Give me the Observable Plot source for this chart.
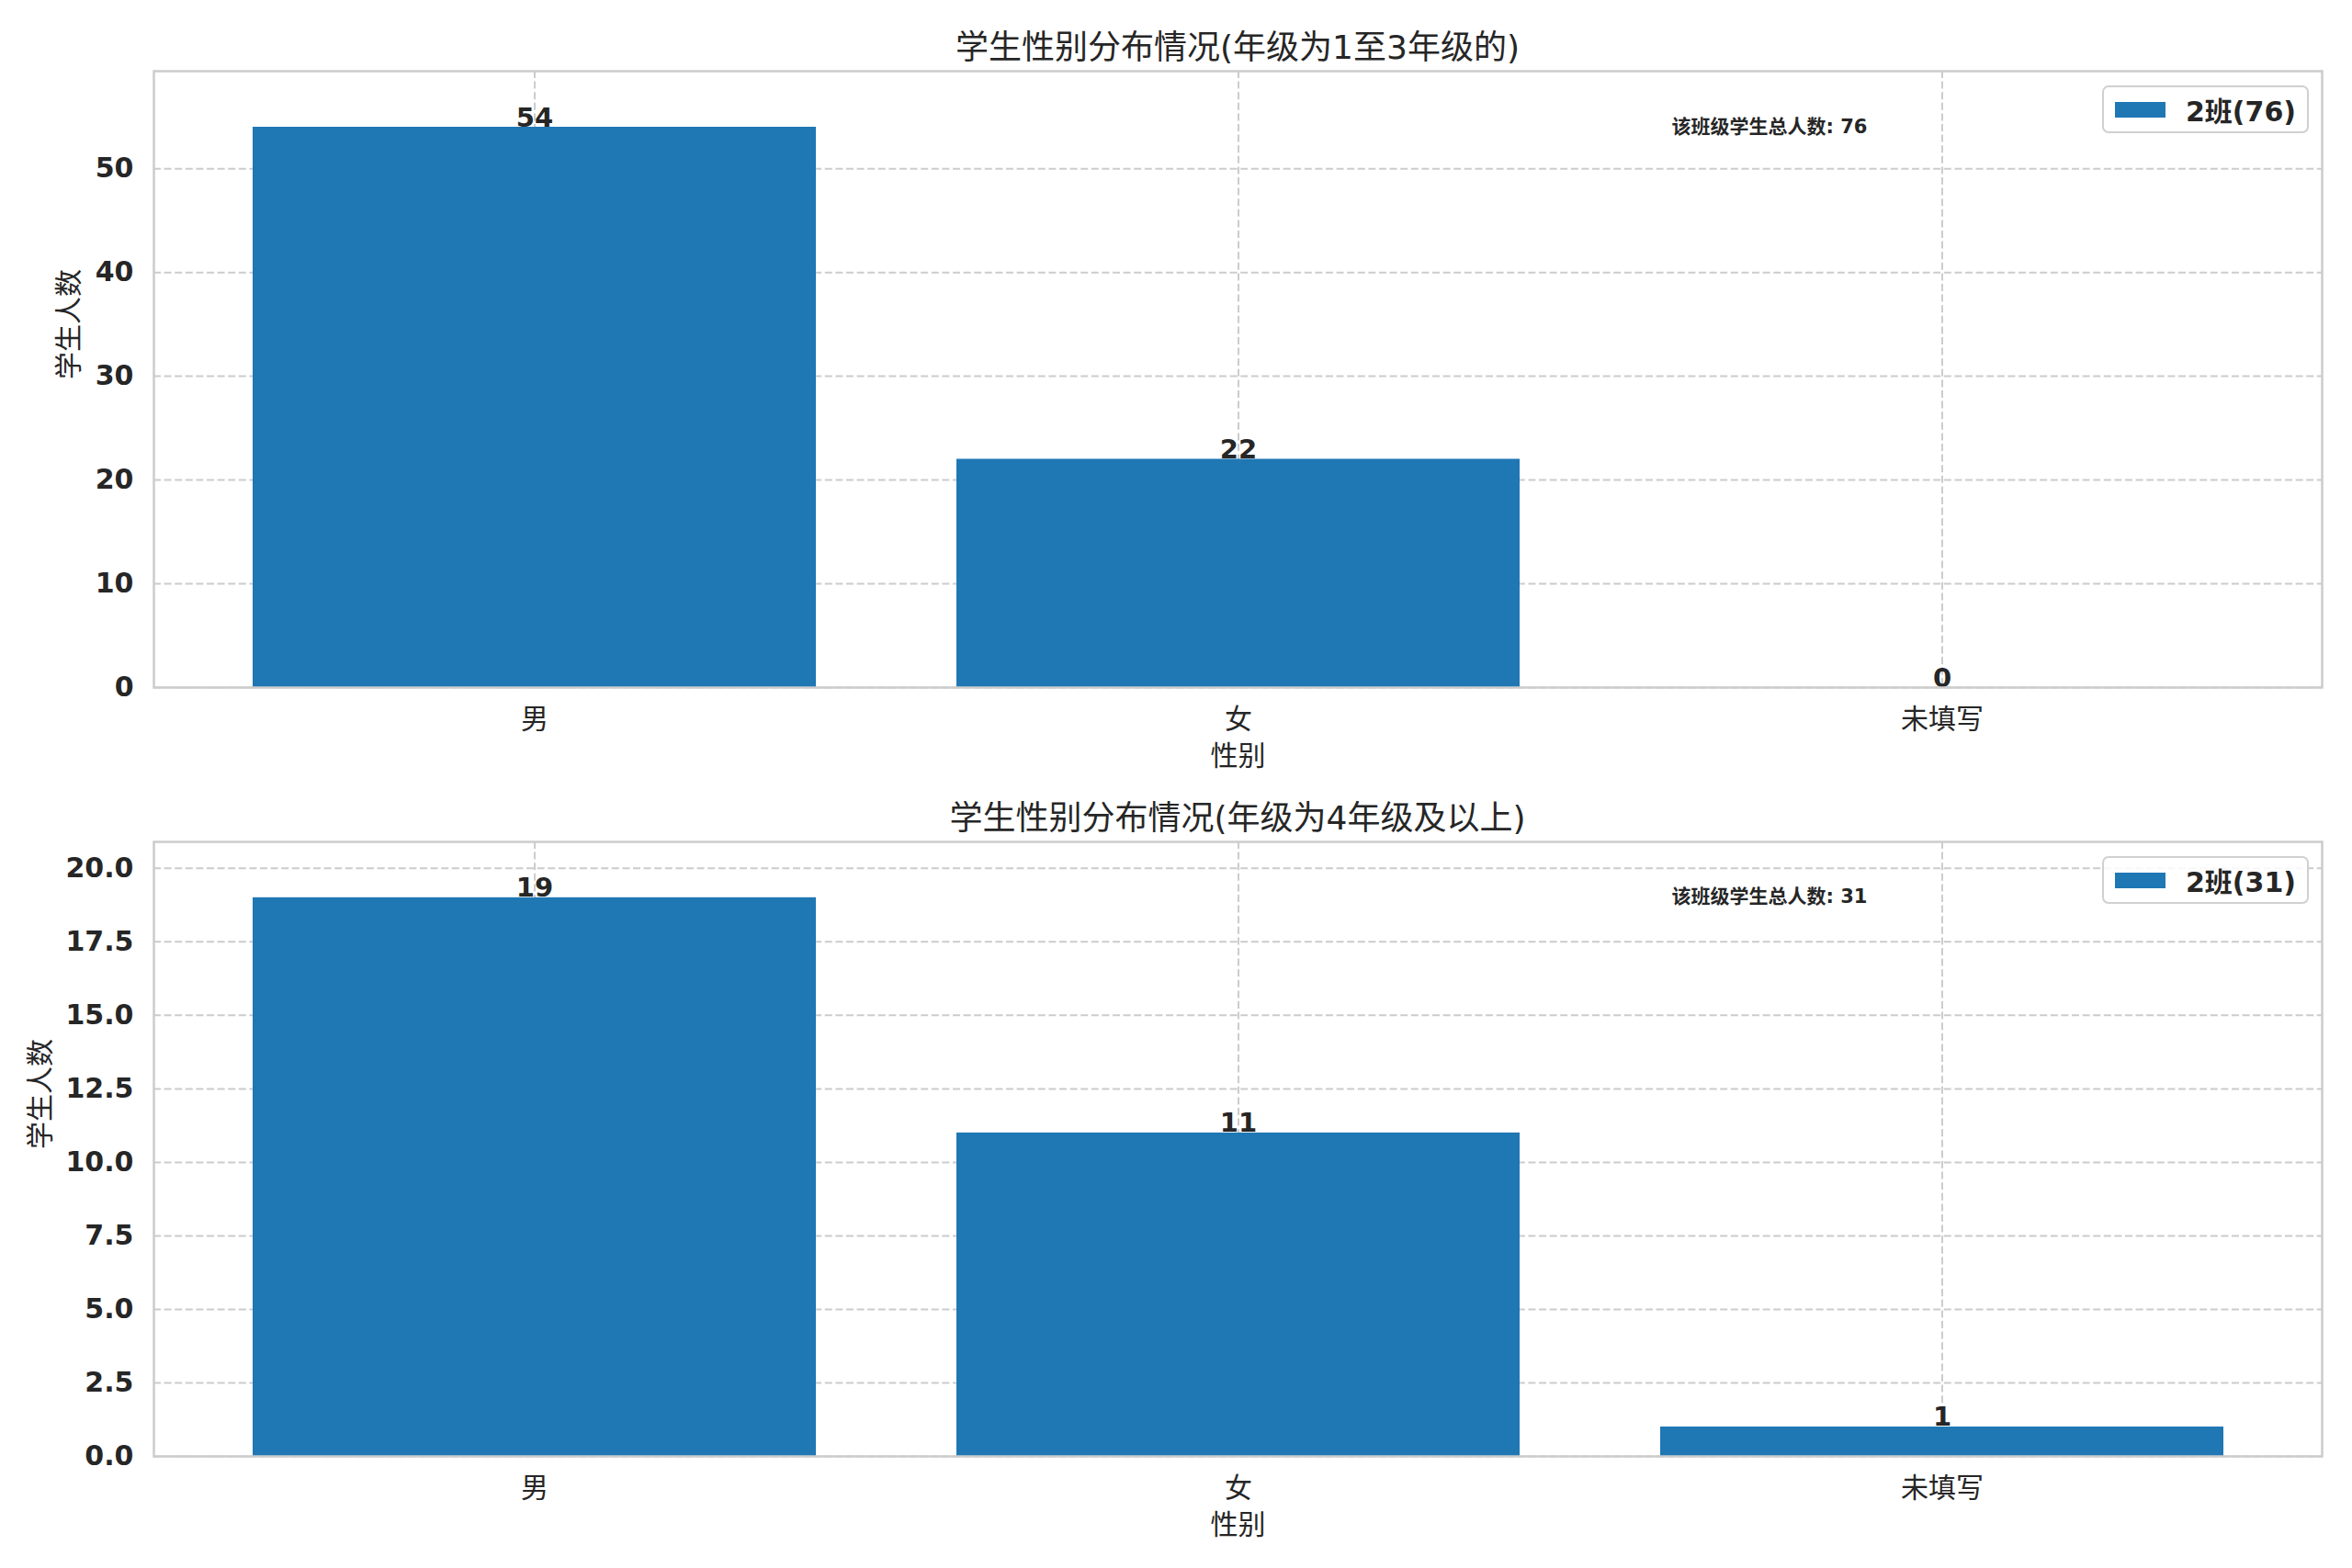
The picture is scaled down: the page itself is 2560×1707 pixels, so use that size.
<!DOCTYPE html>
<html>
<head>
<meta charset="utf-8">
<script src="https://cdn.jsdelivr.net/npm/d3@7"></script>
<script src="https://cdn.jsdelivr.net/npm/@observablehq/plot@0.6"></script>
<style>
  html, body { margin: 0; padding: 0; background: #ffffff; }
  #page { position: relative; width: 2560px; height: 1707px; overflow: hidden; background: #fff;
          font-family: 'DejaVu Sans', 'Noto Sans CJK SC', sans-serif; color: #262626; }
  .panel { position: absolute; left: 0; width: 2560px; }
  .title { position: absolute; transform: translate(-50%, -50%); white-space: nowrap; font-size: 36px; color: #262626; }
  .legend { position: absolute; box-sizing: border-box; border: 2px solid #d0d0d0; border-radius: 7px;
            background: rgba(255,255,255,0.85); display: flex; align-items: center; }
  .legend .sw { width: 55px; height: 17px; background: #1f77b4; margin-left: 12px; margin-right: 22px; }
  .legend .lab { font-weight: bold; font-size: 30px; white-space: nowrap; padding-right: 12px; }
</style>
</head>
<body>
<div id="page"></div>
<script>
// ---- data ----
const categories = ["男", "女", "未填写"];
const countsGrade1to3 = [54, 22, 0];
const countsGrade4up = [19, 11, 1];
const yTicksGrade1to3 = [0, 10, 20, 30, 40, 50];
const yTicksGrade4up = [0, 2.5, 5, 7.5, 10, 12.5, 15, 17.5, 20];
const titles = ["学生性别分布情况(年级为1至3年级的)", "学生性别分布情况(年级为4年级及以上)"];
const legendSeries = "2班";
const xLabel = "性别";
const yLabel = "学生人数";
const annotationLabel = "该班级学生总人数";

const FONT = "'DejaVu Sans', 'Noto Sans CJK SC', sans-serif";
const INK = "#262626";
const GRID = "#cccccc";
const BLUE = "#1f77b4";
const page = document.getElementById("page");

function panel({top, height, mt, mb, counts, yTicks, fmt, title, ylabOffset}) {
  const ml = 167, mr = 33, W = 2560;
  const rows = categories.map((c, i) => ({cat: c, count: counts[i]}));
  const total = d3.sum(counts);
  const fw = W - ml - mr, fh = height - mt - mb;
  const chart = Plot.plot({
    width: W, height,
    marginTop: mt, marginBottom: mb, marginLeft: ml, marginRight: mr,
    style: {fontFamily: FONT, color: INK, background: "transparent", overflow: "visible"},
    x: {domain: categories, paddingInner: 0.2, paddingOuter: 0.14, align: 0.5, label: null},
    y: {domain: [0, d3.max(counts) * 1.1], label: null},
    marks: [
      Plot.gridY(yTicks, {stroke: GRID, strokeOpacity: 1, strokeWidth: 2, strokeDasharray: "8,3.6"}),
      Plot.gridX({stroke: GRID, strokeOpacity: 1, strokeWidth: 2, strokeDasharray: "8,3.6"}),
      Plot.barY(rows, {x: "cat", y: "count", fill: BLUE}),
      Plot.text(rows, {x: "cat", y: "count", text: d => String(d.count), lineAnchor: "bottom", dy: -1,
                       fontSize: 29, fontWeight: "bold", fill: INK}),
      Plot.text([total], {frameAnchor: "top-left", dx: 0.7 * fw, dy: 0.1 * fh, textAnchor: "start",
                          lineAnchor: "bottom", text: d => `${annotationLabel}: ${d}`,
                          fontSize: 21, fontWeight: "bold", fill: INK}),
      Plot.axisY(yTicks, {tickSize: 0, tickPadding: 22, fontSize: 30, fontWeight: "bold", tickFormat: fmt, label: null}),
      Plot.axisX({tickSize: 0, tickPadding: 23, fontSize: 30, label: null}),
      Plot.text([yLabel], {frameAnchor: "left", dx: -ylabOffset, rotate: -90, text: d => d, fontSize: 30, fill: INK}),
      Plot.text([xLabel], {frameAnchor: "bottom", dy: 84, text: d => d, fontSize: 30, fill: INK}),
      Plot.frame({stroke: GRID, strokeWidth: 2.5})
    ]
  });
  const div = document.createElement("div");
  div.className = "panel";
  div.style.top = top + "px";
  div.style.height = height + "px";
  div.appendChild(chart);

  const t = document.createElement("div");
  t.className = "title";
  t.textContent = title;
  t.style.left = (ml + fw / 2) + "px";
  t.style.top = (mt - 29) + "px";
  div.appendChild(t);

  const lg = document.createElement("div");
  lg.className = "legend";
  lg.style.right = (mr + 14) + "px";
  lg.style.top = (mt + 16) + "px";
  lg.style.height = "52px";
  lg.innerHTML = `<div class="sw"></div><div class="lab">${legendSeries}(${total})</div>`;
  div.appendChild(lg);

  page.appendChild(div);
}

panel({top: 0, height: 853, mt: 77, mb: 105, counts: countsGrade1to3, yTicks: yTicksGrade1to3,
       fmt: d3.format("d"), title: titles[0], ylabOffset: 92});
panel({top: 853, height: 854, mt: 63, mb: 122, counts: countsGrade4up, yTicks: yTicksGrade4up,
       fmt: d3.format(".1f"), title: titles[1], ylabOffset: 123});
</script>
</body>
</html>
